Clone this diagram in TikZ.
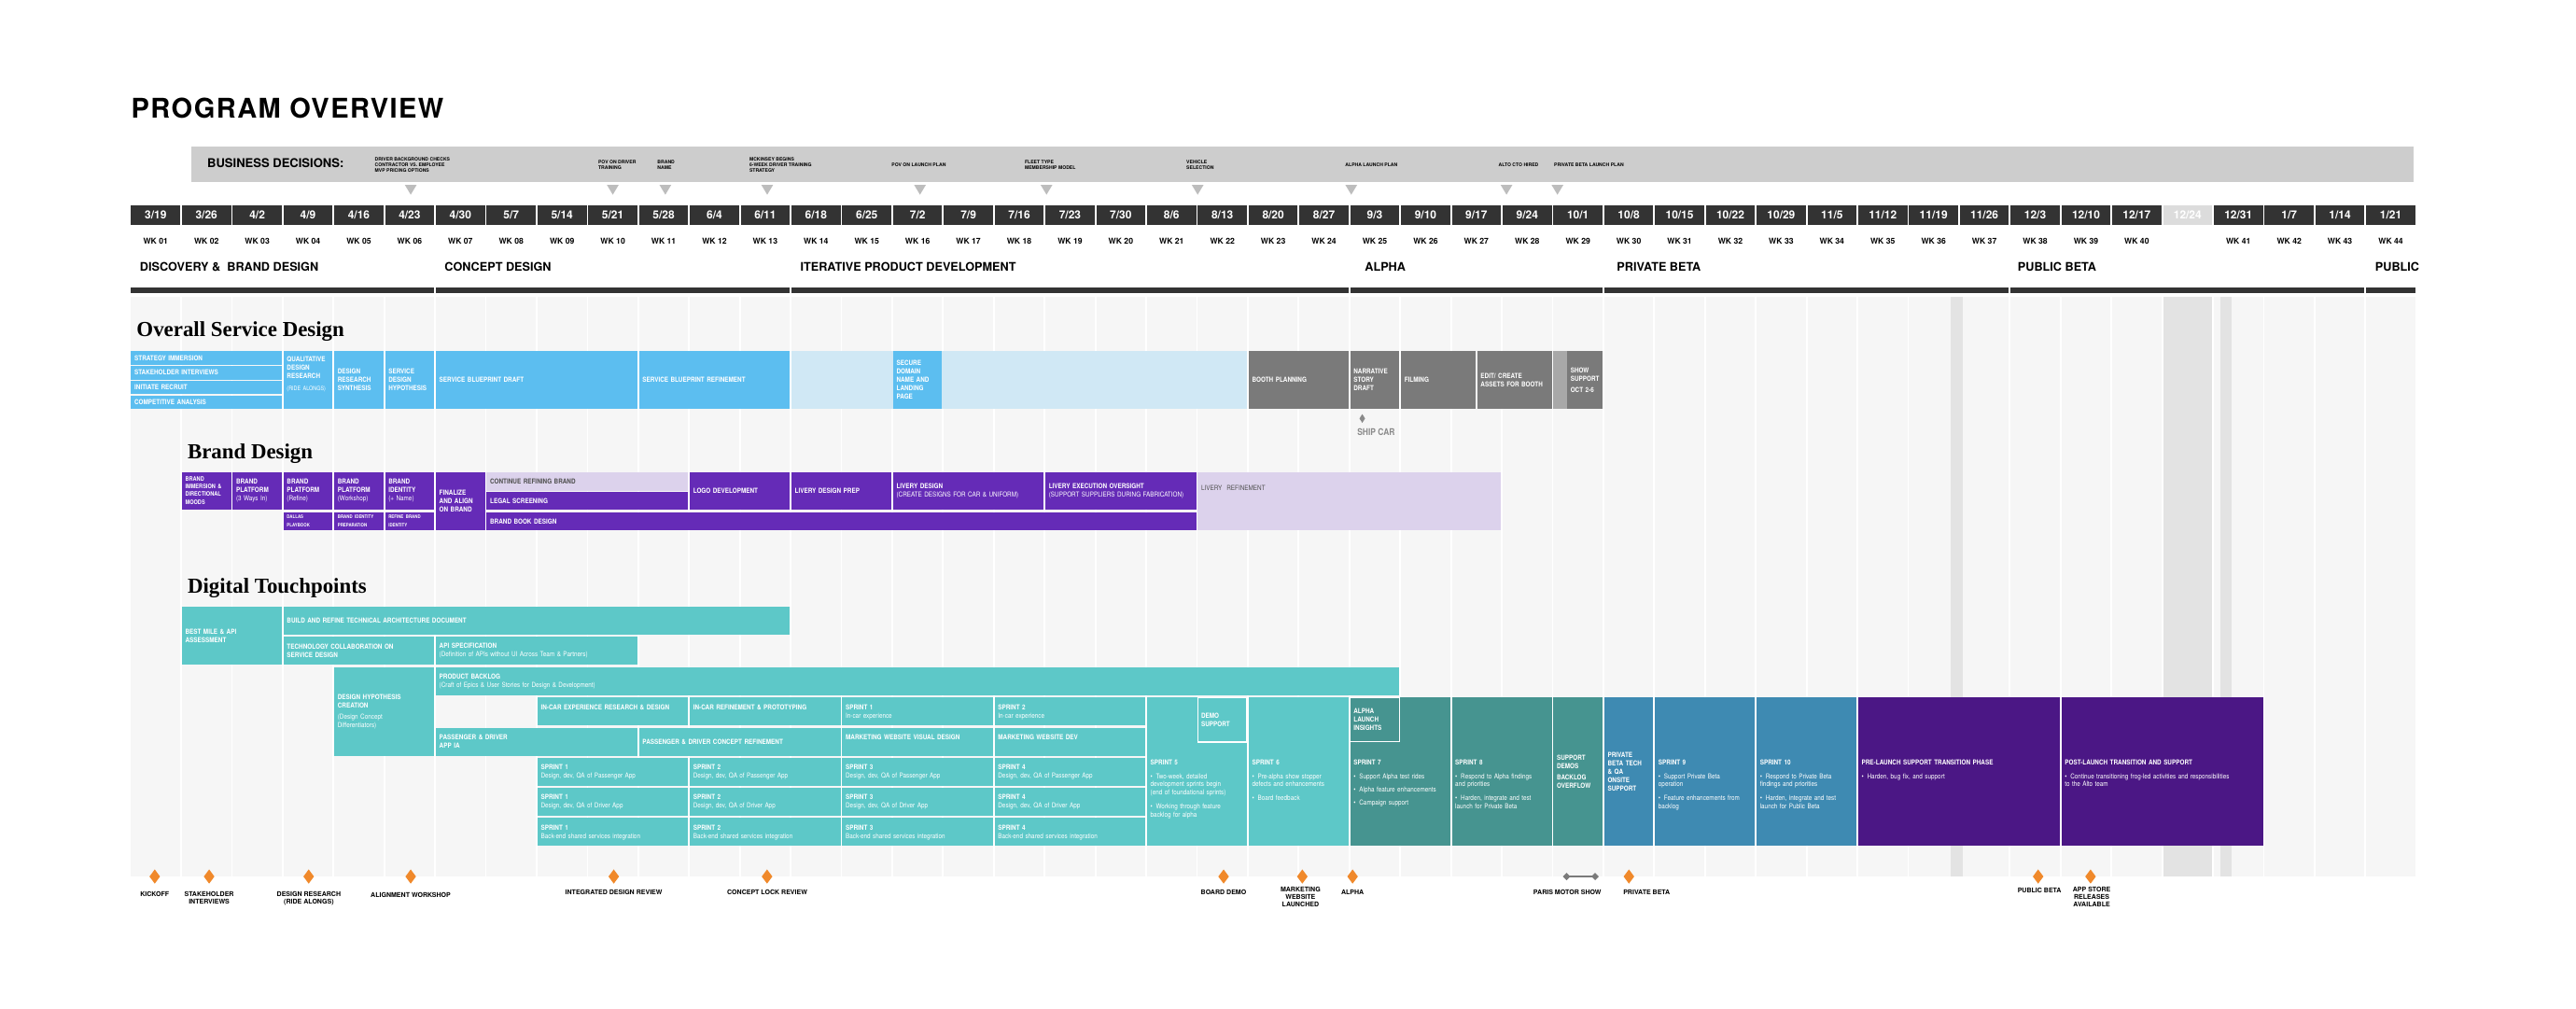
\documentclass[tikz,border=0pt]{standalone}
\usepackage{fontspec}
\setmainfont{TeX Gyre Heros}
\newfontfamily\cond[FakeStretch=0.86]{TeX Gyre Heros}
\newfontfamily\headserif{Liberation Serif}
\usetikzlibrary{positioning,calc,shapes.geometric,arrows.meta}
\definecolor{ink}{HTML}{333333}
\definecolor{band}{HTML}{CDCDCD}
\definecolor{tri}{HTML}{BDBDBD}
\definecolor{gridcol}{HTML}{F6F6F6}
\definecolor{holiday}{HTML}{E3E3E3}
\definecolor{dayoffgrey}{HTML}{DCDCDC}
\definecolor{sdblue}{HTML}{5CBEF0}
\definecolor{sdpale}{HTML}{D0E8F5}
\definecolor{sdgrey}{HTML}{7A7A7A}
\definecolor{sdstrip}{HTML}{A8A8A8}
\definecolor{brand}{HTML}{652BB7}
\definecolor{lavender}{HTML}{DCD2EC}
\definecolor{palefont}{HTML}{505050}
\definecolor{teal}{HTML}{5DC8C8}
\definecolor{tealdark}{HTML}{469490}
\definecolor{steel}{HTML}{3E8AB2}
\definecolor{deep}{HTML}{4B1785}
\definecolor{mstone}{HTML}{F0892B}
\definecolor{shipgrey}{HTML}{8A8A8A}
\definecolor{pmsgrey}{HTML}{7A7A7A}
% one bar of the chart: name, style, first column, last column, top, bottom, text
\newcommand{\task}[7]{%
  \pgfmathsetmacro\xa{79.8+30.92*(#3)}%
  \pgfmathsetmacro\xb{79.8+30.92*(#4)+29.9}%
  \pgfmathsetmacro\bw{\xb-\xa}%
  \pgfmathsetmacro\bh{#6-#5}%
  \pgfmathsetmacro\tw{\bw-3.8}%
  \node[cell,#2,minimum width=\bw pt,minimum height=\bh pt,anchor=north west] (#1) at (\xa,#5) {};
  \node[lbl,text width=\tw pt,anchor=west] (#1-t) at ($(#1.west)+(2.1,0)$) {#7};}
% same, text hung from a given height
\newcommand{\taskat}[8]{%
  \pgfmathsetmacro\xa{79.8+30.92*(#3)}%
  \pgfmathsetmacro\xb{79.8+30.92*(#4)+29.9}%
  \pgfmathsetmacro\bw{\xb-\xa}%
  \pgfmathsetmacro\bh{#6-#5}%
  \pgfmathsetmacro\tw{\bw-3.8}%
  \node[cell,#2,minimum width=\bw pt,minimum height=\bh pt,anchor=north west] (#1) at (\xa,#5) {};
  \node[lbl,text width=\tw pt,anchor=north west] (#1-t) at (\xa+2.1,#7) {#8};}
\newcommand{\itm}[1]{\par\noindent\hangindent=3.4pt\hangafter=1{\mdseries\makebox[3.4pt][l]{\textbullet}#1}}
\tikzset{
  cell/.style={inner sep=0pt,outer sep=0pt,draw=none},
  day/.style={cell,text=white,font=\bfseries\fontsize{6.8}{7}\selectfont,minimum width=29.9pt,minimum height=11.7pt},
  wk/.style={inner sep=0pt,font=\bfseries\fontsize{4.9}{5}\selectfont},
  phase/.style={inner sep=0pt,anchor=base west,font=\bfseries\fontsize{7.2}{8}\selectfont},
  decision/.style={inner sep=0pt,anchor=west,align=left,font=\bfseries\fontsize{2.9}{3.5}\selectfont},
  section/.style={inner sep=0pt,anchor=base west,font=\headserif\bfseries\fontsize{13}{14}\selectfont},
  lbl/.style={inner sep=0pt,outer sep=0pt,align=left,text=white,
              font=\cond\bfseries\fontsize{4.2}{5.1}\selectfont,
              execute at begin node={\setlength{\parskip}{2.9pt}\setlength{\parindent}{0pt}}},
  sd/.style={fill=sdblue},
  sdpale/.style={fill=sdpale},
  sdgrey/.style={fill=sdgrey},
  br/.style={fill=brand},
  brpale/.style={fill=lavender},
  dt/.style={fill=teal},
  dtbox/.style={fill=teal,draw=white,line width=0.9pt},
  dtdark/.style={fill=tealdark},
  dtdarkbox/.style={fill=tealdark,draw=white,line width=0.9pt},
  stl/.style={fill=steel},
  deep/.style={fill=deep},
  milestone/.style={diamond,fill=mstone,inner sep=0pt,minimum width=6.6pt,minimum height=8.8pt},
  mlabel/.style={inner sep=0pt,anchor=north,align=center,font=\bfseries\fontsize{4}{4.5}\selectfont},
  showspan/.style={{Diamond[length=4.5pt,width=4.5pt]}-{Diamond[length=4.5pt,width=4.5pt]},line width=1.3pt,draw=pmsgrey},
}
\begin{document}
\begin{tikzpicture}[x=1pt,y=-1pt]
  \useasboundingbox (0,0) rectangle (1568,613.6);
  \fill[white] (0,0) rectangle (1568,613.6);
  \node[inner sep=0pt,anchor=base west,font=\bfseries\fontsize{16.5}{17}\selectfont\addfontfeature{LetterSpace=5}] (title) at (79.7,72) {PROGRAM OVERVIEW};
  % Business decisions
  \fill[band] (116.2,89) rectangle (1469,111);
  \node[inner sep=0pt,anchor=base west,font=\bfseries\fontsize{7.4}{8}\selectfont] (biz) at (126,101.9) {BUSINESS DECISIONS:};
  \foreach \x/\txt [count=\k] in {228/{DRIVER BACKGROUND CHECKS\\CONTRACTOR VS. EMPLOYEE\\MVP PRICING OPTIONS},
      364/{POV ON DRIVER\\TRAINING},400/{BRAND\\NAME},456/{MCKINSEY BEGINS\\6-WEEK DRIVER TRAINING\\STRATEGY},
      542.6/{POV ON LAUNCH PLAN},623.6/{FLEET TYPE\\MEMBERSHIP MODEL},722/{VEHICLE\\SELECTION},
      818.7/{ALPHA LAUNCH PLAN},912/{ALTO CTO HIRED},945.8/{PRIVATE BETA LAUNCH PLAN}}{
    \node[decision] (bd\k) at (\x,100.4) {\txt};
  }
  \foreach \x in {250,373,405,467,560,637,729,822.5,917,948}{
    \fill[tri] (\x-3.6,112.5) -- (\x+3.6,112.5) -- (\x,118.5) -- cycle;
  }
  % Weeks
  \foreach \d [count=\k from 0] in {3/19,3/26,4/2,4/9,4/16,4/23,4/30,5/7,5/14,5/21,5/28,6/4,6/11,6/18,6/25,
      7/2,7/9,7/16,7/23,7/30,8/6,8/13,8/20,8/27,9/3,9/10,9/17,9/24,10/1,10/8,10/15,10/22,10/29,11/5,
      11/12,11/19,11/26,12/3,12/10,12/17,12/24,12/31,1/7,1/14,1/21}{
    \ifnum\k=40 \def\dayfill{dayoffgrey}\else\def\dayfill{ink}\fi
    \node[day,fill=\dayfill] (d\k) at ({94.75+30.92*\k},130.85) {\d};
  }
  \foreach \k in {0,...,44}{
    \ifnum\k=40\relax\else
      \pgfmathtruncatemacro\wn{\k<40 ? \k+1 : \k}
      \node[wk] (w\k) at ({94.75+30.92*\k},146.7) {WK \ifnum\wn<10 0\fi\wn};
    \fi
  }
  % Phases
  \foreach \x/\txt [count=\k] in {85/{DISCOVERY \&\ \ BRAND DESIGN},270.5/{CONCEPT DESIGN},
      487/{ITERATIVE PRODUCT DEVELOPMENT},830.6/{ALPHA},984/{PRIVATE BETA},1228/{PUBLIC BETA},1445.6/{PUBLIC}}{
    \node[phase] (ph\k) at (\x,165.3) {\txt};
  }
  \foreach \a/\b in {0/5,6/12,13/23,24/28,29/36,37/43,44/44}{
    \fill[ink] ({79.8+30.92*\a},175) rectangle ({79.8+30.92*\b+29.9},178.4);
  }
  % Grid
  \foreach \k in {0,...,44}{
    \fill[gridcol] ({79.8+30.92*\k},180.7) rectangle ++(29.9,352.8);
  }
  \fill[holiday] (1187.2,180.7) rectangle (1195,533.5);
  \fill[holiday] (1316.6,180.7) rectangle (1346.5,533.5);
  \fill[holiday] (1351.8,180.7) rectangle (1358.5,533.5);
  % Overall service design
  \node[section] (svc) at (83,204.9) {Overall Service Design};
  \task{sStrat}{sd}{0}{2}{213.6}{222.0}{STRATEGY IMMERSION}
  \task{sStake}{sd}{0}{2}{222.6}{231.0}{STAKEHOLDER INTERVIEWS}
  \task{sRecr}{sd}{0}{2}{231.6}{240.0}{INITIATE RECRUIT}
  \task{sComp}{sd}{0}{2}{240.6}{249.0}{COMPETITIVE ANALYSIS}
  \taskat{sQual}{sd}{3}{3}{213.6}{249}{217.2}{QUALITATIVE\\DESIGN\\RESEARCH\\[2.3pt]{\mdseries\fontsize{3.6}{4.5}\selectfont\mbox{(RIDE ALONGS)}}}
  \task{sSynth}{sd}{4}{4}{213.6}{249}{DESIGN\\RESEARCH\\SYNTHESIS}
  \task{sHypo}{sd}{5}{5}{213.6}{249}{SERVICE\\DESIGN\\HYPOTHESIS}
  \task{sDraft}{sd}{6}{9}{213.6}{249}{SERVICE BLUEPRINT DRAFT}
  \task{sRefine}{sd}{10}{12}{213.6}{249}{SERVICE BLUEPRINT REFINEMENT}
  \task{sPale}{sdpale}{13}{21}{213.6}{249}{}
  \task{sDomain}{sd}{15}{15}{213.6}{249}{SECURE\\DOMAIN\\NAME AND\\LANDING\\PAGE}
  \task{sBooth}{sdgrey}{22}{23}{213.6}{249}{BOOTH PLANNING}
  \task{sStory}{sdgrey}{24}{24}{213.6}{249}{NARRATIVE\\STORY\\DRAFT}
  \task{sFilm}{sdgrey}{25}{25.5}{213.6}{249}{FILMING}
  \task{sEdit}{sdgrey}{26.5}{27}{213.6}{249}{EDIT/ CREATE\\ASSETS FOR BOOTH}
  \fill[sdstrip] (945.6,213.6) rectangle (953.9,249);
  \task{sShow}{sdgrey}{28.27}{28}{213.6}{249}{SHOW\\SUPPORT\\[2pt]OCT 2-6}
  \node[diamond,fill=shipgrey,inner sep=0pt,minimum width=3.6pt,minimum height=5.5pt] (ship) at (829.2,254.7) {};
  \node[inner sep=0pt,anchor=base west,text=shipgrey,font=\cond\bfseries\fontsize{5.6}{6}\selectfont] (shipt) at (826,265.3) {SHIP CAR};
  % Brand design
  \node[section] (brd) at (114,279.3) {Brand Design};
  \task{bImm}{br}{1}{1}{287.5}{310.2}{\fontsize{3.7}{4.6}\selectfont BRAND\\IMMERSION \&\\DIRECTIONAL\\MOODS}
  \task{bPlat1}{br}{2}{2}{287.5}{310.2}{BRAND\\PLATFORM\\{\mdseries(3 Ways In)}}
  \task{bPlat2}{br}{3}{3}{287.5}{310.2}{BRAND\\PLATFORM\\{\mdseries(Refine)}}
  \task{bPlat3}{br}{4}{4}{287.5}{310.2}{BRAND\\PLATFORM\\{\mdseries(Workshop)}}
  \task{bIdent}{br}{5}{5}{287.5}{310.2}{BRAND\\IDENTITY\\{\mdseries(+ Name)}}
  \task{bDallas}{br}{3}{3}{311.7}{322.9}{\fontsize{2.9}{3.4}\selectfont DALLAS\\PLAYBOOK}
  \task{bPrep}{br}{4}{4}{311.7}{322.9}{\fontsize{2.9}{3.4}\selectfont BRAND IDENTITY\\PREPARATION}
  \task{bRefId}{br}{5}{5}{311.7}{322.9}{\fontsize{2.9}{3.4}\selectfont REFINE BRAND\\IDENTITY}
  \task{bFinal}{br}{6}{6}{287.5}{322.9}{FINALIZE\\AND ALIGN\\ON BRAND}
  \task{bCont}{brpale}{7}{10}{287.5}{298.6}{\color{palefont}CONTINUE REFINING BRAND}
  \task{bLegal}{br}{7}{10}{299.2}{310.2}{LEGAL SCREENING}
  \task{bLogo}{br}{11}{12}{287.5}{310.2}{LOGO DEVELOPMENT}
  \task{bLivPrep}{br}{13}{14}{287.5}{310.2}{LIVERY DESIGN PREP}
  \task{bLivDes}{br}{15}{17}{287.5}{310.2}{LIVERY DESIGN\\{\mdseries(CREATE DESIGNS FOR CAR \& UNIFORM)}}
  \task{bLivExe}{br}{18}{20}{287.5}{310.2}{LIVERY EXECUTION OVERSIGHT\\{\mdseries(SUPPORT SUPPLIERS DURING FABRICATION)}}
  \task{bBook}{br}{7}{20}{311.7}{322.9}{BRAND BOOK DESIGN}
  \taskat{bLivRef}{brpale}{21}{26}{287.5}{322.9}{295.5}{\color{palefont}\mdseries LIVERY\ \ REFINEMENT}
  % Digital touchpoints
  \node[section] (dig) at (114,361.3) {Digital Touchpoints};
  \task{dBest}{dt}{1}{2}{369.3}{404.7}{BEST MILE \& API\\ASSESSMENT}
  \task{dArch}{dt}{3}{12}{369.3}{386.4}{BUILD AND REFINE TECHNICAL ARCHITECTURE DOCUMENT}
  \task{dTech}{dt}{3}{5}{387.7}{404.7}{TECHNOLOGY COLLABORATION ON\\SERVICE DESIGN}
  \task{dApi}{dt}{6}{9}{387.7}{404.7}{API SPECIFICATION\\{\mdseries(Definition of APIs without UI Across Team \& Partners)}}
  \task{dHypo}{dt}{4}{5}{406.0}{460.0}{DESIGN HYPOTHESIS\\CREATION\\[1.6pt]{\mdseries(Design Concept\\Differentiators)}}
  \task{dBacklog}{dt}{6}{24}{406.0}{423.1}{PRODUCT BACKLOG\\{\mdseries(Craft of Epics \& User Stories for Design \& Development)}}
  \taskat{dInCar}{dt}{8}{10}{424.6}{441.7}{428.8}{IN-CAR EXPERIENCE RESEARCH \& DESIGN}
  \taskat{dInCarRef}{dt}{11}{13}{424.6}{441.7}{428.8}{IN-CAR REFINEMENT \& PROTOTYPING}
  \taskat{dAppIA}{dt}{6}{9}{442.9}{460.0}{447.1}{PASSENGER \& DRIVER\\APP IA}
  \task{dConcept}{dt}{10}{13}{442.9}{460.0}{PASSENGER \& DRIVER CONCEPT REFINEMENT}
  \foreach \n/\a/\b in {1/8/10,2/11/13,3/14/16,4/17/19}{
    \taskat{dSp\n}{dt}{\a}{\b}{461.2}{478.3}{465.4}{SPRINT \n\\{\mdseries Design, dev, QA of Passenger App}}
    \taskat{dSd\n}{dt}{\a}{\b}{479.5}{496.6}{483.7}{SPRINT \n\\{\mdseries Design, dev, QA of Driver App}}
    \taskat{dSb\n}{dt}{\a}{\b}{497.8}{514.9}{502.0}{SPRINT \n\\{\mdseries Back-end shared services integration}}
  }
  \taskat{dSi1}{dt}{14}{16}{424.6}{441.7}{428.8}{SPRINT 1\\{\mdseries In-car experience}}
  \taskat{dSi2}{dt}{17}{19}{424.6}{441.7}{428.8}{SPRINT 2\\{\mdseries In-car experience}}
  \taskat{dWebVis}{dt}{14}{16}{442.9}{460.0}{447.1}{MARKETING WEBSITE VISUAL DESIGN}
  \taskat{dWebDev}{dt}{17}{19}{442.9}{460.0}{447.1}{MARKETING WEBSITE DEV}
  \taskat{dS5}{dt}{20}{21}{424.6}{514.9}{462.7}{SPRINT 5\itm{Two-week, detailed\\development sprints begin\\(end of foundational sprints)}\itm{Working through feature\\backlog for alpha}}
  \task{dDemo}{dtbox}{21}{21}{424.6}{451.7}{DEMO\\SUPPORT}
  \taskat{dS6}{dt}{22}{23}{424.6}{514.9}{462.7}{SPRINT 6\itm{Pre-alpha show stopper\\defects and enhancements}\itm{Board feedback}}
  \taskat{dS7}{dtdark}{24}{25}{424.6}{514.9}{462.7}{SPRINT 7\itm{Support Alpha test rides}\itm{Alpha feature enhancements}\itm{Campaign support}}
  \task{dInsight}{dtdarkbox}{24}{24}{424.6}{451.3}{ALPHA\\LAUNCH\\INSIGHTS}
  \taskat{dS8}{dtdark}{26}{27}{424.6}{514.9}{462.7}{SPRINT 8\itm{Respond to Alpha findings\\and priorities}\itm{Harden, integrate and test\\launch for Private Beta}}
  \task{dDemos}{dtdark}{28}{28}{424.6}{514.9}{SUPPORT\\DEMOS\\[2.1pt]BACKLOG\\OVERFLOW}
  \task{dOnsite}{stl}{29}{29}{424.6}{514.9}{PRIVATE\\BETA TECH\\\& QA\\ONSITE\\SUPPORT}
  \taskat{dS9}{stl}{30}{31}{424.6}{514.9}{462.7}{SPRINT 9\itm{Support Private Beta\\operation}\itm{Feature enhancements from\\backlog}}
  \taskat{dS10}{stl}{32}{33}{424.6}{514.9}{462.7}{SPRINT 10\itm{Respond to Private Beta\\findings and priorities}\itm{Harden, integrate and test\\launch for Public Beta}}
  \taskat{dPre}{deep}{34}{37}{424.6}{514.9}{462.7}{PRE-LAUNCH SUPPORT TRANSITION PHASE\itm{Harden, bug fix, and support}}
  \taskat{dPost}{deep}{38}{41}{424.6}{514.9}{462.7}{POST-LAUNCH TRANSITION AND SUPPORT\itm{Continue transitioning frog-led activities and responsibilities\\to the Alto team}}
  % Milestones
  \foreach \dx/\lx/\ly/\txt [count=\k] in {94.2/94.2/542.7/{KICKOFF},127.3/127.3/542.7/{STAKEHOLDER\\INTERVIEWS},
      187.9/188/542.7/{DESIGN RESEARCH\\(RIDE ALONGS)},250/250/543.1/{ALIGNMENT WORKSHOP},
      373.6/373.6/541.2/{INTEGRATED DESIGN REVIEW},466.9/467/541.2/{CONCEPT LOCK REVIEW},
      744.8/744.8/541.3/{BOARD DEMO},792.7/791.6/539.5/{MARKETING\\WEBSITE\\LAUNCHED},823.3/823.3/541.3/{ALPHA},
      991.5/1002.3/541.3/{PRIVATE BETA},1240.6/1241.4/540.3/{PUBLIC BETA},1272.5/1273.2/539.8/{APP STORE\\RELEASES\\AVAILABLE}}{
    \node[milestone] (ms\k) at (\dx,533.5) {};
    \node[mlabel] (ml\k) at (\lx,\ly) {\txt};
  }
  \coordinate (pmsA) at (951.3,533.5);
  \coordinate (pmsB) at (973.2,533.5);
  \draw[showspan] (pmsA) -- (pmsB);
  \node[mlabel] (pms) at (954,541.3) {PARIS MOTOR SHOW};
\end{tikzpicture}
\end{document}
